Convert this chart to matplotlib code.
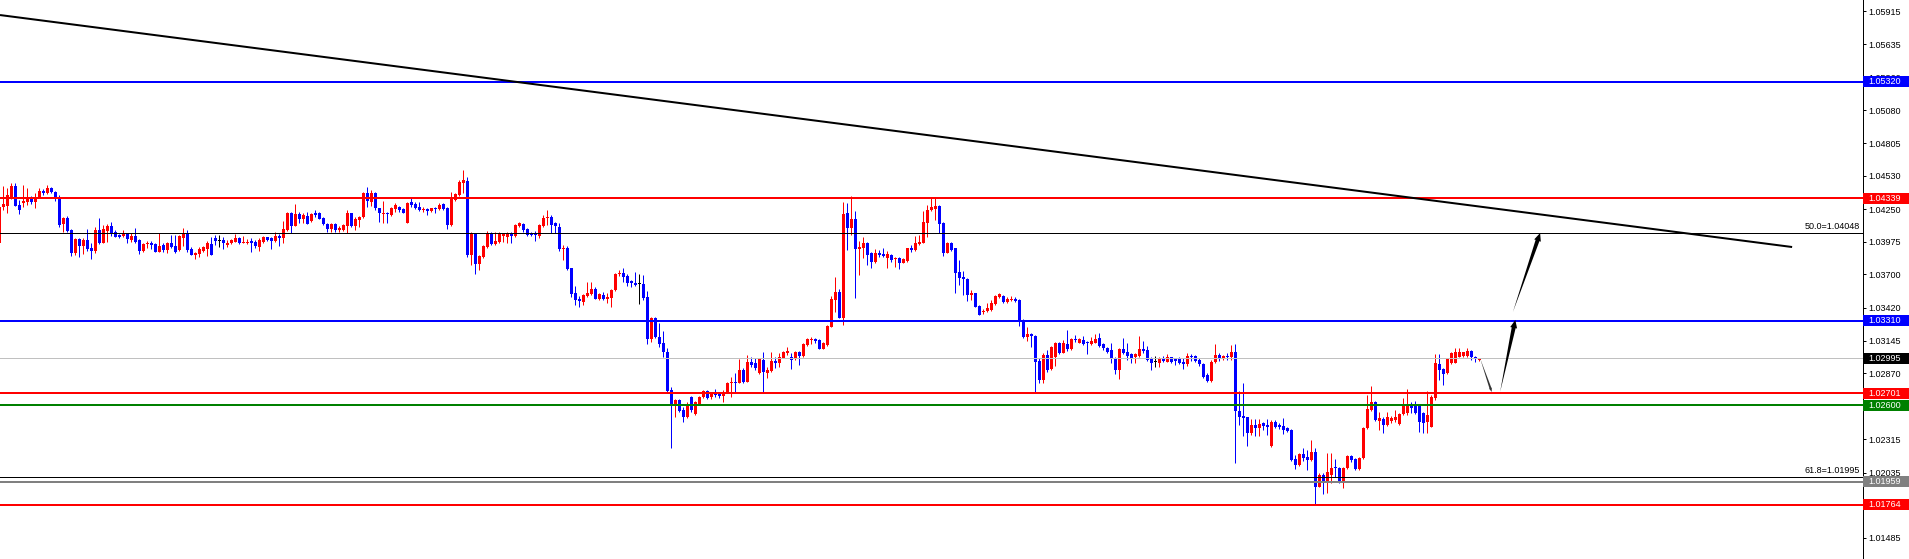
import matplotlib.pyplot as plt
import matplotlib.transforms as mtransforms
from matplotlib.patches import Rectangle, Polygon
import numpy as np

plt.rcParams['font.family'] = ['Liberation Sans', 'DejaVu Sans']

# OHLC of the visible candles, oldest first
opens = [
    1.03965, 1.04267, 1.04276, 1.04343, 1.04444, 1.04284, 1.04301, 1.04309, 1.04351, 1.04309,
    1.04351, 1.04402, 1.04385, 1.04427, 1.04393, 1.04343, 1.04124, 1.04175, 1.04074, 1.03881,
    1.03998, 1.03940, 1.03990, 1.03923, 1.03898, 1.04074, 1.03965, 1.04066, 1.04108, 1.04057,
    1.04032, 1.04024, 1.04049, 1.03990, 1.04024, 1.03990, 1.03898, 1.03956, 1.03965, 1.03956,
    1.03889, 1.03948, 1.03906, 1.03965, 1.03940, 1.03906, 1.04007, 1.04049, 1.03914, 1.03864,
    1.03872, 1.03898, 1.03914, 1.03956, 1.04007, 1.03982, 1.03990, 1.03948, 1.03965, 1.03973,
    1.04007, 1.03965, 1.03965, 1.03982, 1.03973, 1.03931, 1.03973, 1.04015, 1.04007, 1.03982,
    1.04024, 1.04007, 1.04074, 1.04217, 1.04108, 1.04208, 1.04166, 1.04192, 1.04150, 1.04217,
    1.04217, 1.04175, 1.04124, 1.04082, 1.04124, 1.04074, 1.04074, 1.04108, 1.04217, 1.04108,
    1.04158, 1.04183, 1.04385, 1.04309, 1.04385, 1.04259, 1.04208, 1.04217, 1.04200, 1.04250,
    1.04267, 1.04250, 1.04133, 1.04309, 1.04292, 1.04267, 1.04242, 1.04250, 1.04234, 1.04259,
    1.04250, 1.04292, 1.04259, 1.04116, 1.04326, 1.04368, 1.04469, 1.04486, 1.03864, 1.04049,
    1.03788, 1.03847, 1.03931, 1.04040, 1.03956, 1.03973, 1.04024, 1.04015, 1.04049, 1.04024,
    1.04108, 1.04124, 1.04082, 1.04049, 1.04040, 1.04024, 1.04108, 1.04175, 1.04183, 1.04133,
    1.04099, 1.03914, 1.03923, 1.03755, 1.03545, 1.03494, 1.03469, 1.03520, 1.03536, 1.03578,
    1.03494, 1.03528, 1.03494, 1.03503, 1.03570, 1.03704, 1.03713, 1.03688, 1.03646, 1.03629,
    1.03620, 1.03620, 1.03511, 1.03158, 1.03335, 1.03175, 1.03125, 1.03049, 1.02730, 1.02612,
    1.02646, 1.02562, 1.02503, 1.02671, 1.02528, 1.02612, 1.02671, 1.02722, 1.02671, 1.02705,
    1.02705, 1.02680, 1.02705, 1.02789, 1.02797, 1.02789, 1.02898, 1.02797, 1.02965, 1.02957,
    1.02873, 1.02982, 1.02873, 1.02890, 1.02974, 1.02957, 1.02999, 1.03041, 1.03007, 1.02990,
    1.03049, 1.03016, 1.03108, 1.03150, 1.03158, 1.03150, 1.03074, 1.03108, 1.03259, 1.03486,
    1.03553, 1.03335, 1.04217, 1.04091, 1.04166, 1.03914, 1.03923, 1.03965, 1.03881, 1.03805,
    1.03881, 1.03872, 1.03839, 1.03864, 1.03830, 1.03839, 1.03797, 1.03814, 1.03923, 1.03906,
    1.03956, 1.03965, 1.04133, 1.04242, 1.04250, 1.04276, 1.04133, 1.03881, 1.03965, 1.03923,
    1.03721, 1.03679, 1.03662, 1.03528, 1.03545, 1.03436, 1.03385, 1.03394, 1.03402, 1.03452,
    1.03511, 1.03520, 1.03469, 1.03486, 1.03494, 1.03486, 1.03318, 1.03175, 1.03200, 1.03184,
    1.02974, 1.02814, 1.03024, 1.02906, 1.03007, 1.03125, 1.03041, 1.03116, 1.03074, 1.03158,
    1.03125, 1.03150, 1.03133, 1.03116, 1.03125, 1.03167, 1.03116, 1.03083, 1.03066, 1.02999,
    1.02898, 1.03074, 1.03049, 1.03032, 1.03007, 1.03016, 1.03074, 1.03066, 1.02990, 1.02965,
    1.02957, 1.02999, 1.02965, 1.03007, 1.02990, 1.02990, 1.02965, 1.02948, 1.03016, 1.03016,
    1.02982, 1.02948, 1.02856, 1.02806, 1.02965, 1.03024, 1.02990, 1.03016, 1.03007, 1.03049,
    1.02554, 1.02512, 1.02503, 1.02369, 1.02436, 1.02411, 1.02453, 1.02436, 1.02260, 1.02461,
    1.02436, 1.02428, 1.02411, 1.02394, 1.02150, 1.02100, 1.02192, 1.02167, 1.02142, 1.02209,
    1.01915, 1.02016, 1.01949, 1.02016, 1.02083, 1.02075, 1.01957, 1.02075, 1.02176, 1.02150,
    1.02066, 1.02159, 1.02411, 1.02562, 1.02629, 1.02470, 1.02486, 1.02436, 1.02470, 1.02478,
    1.02444, 1.02528, 1.02537, 1.02604, 1.02596, 1.02596, 1.02537, 1.02461, 1.02419, 1.02663,
    1.02948, 1.02906, 1.02873, 1.02957, 1.02957, 1.03007, 1.03016, 1.03016, 1.03058, 1.03007,
    1.02982]
highs = [
    1.04284, 1.04444, 1.04427, 1.04469, 1.04469, 1.04326, 1.04452, 1.04427, 1.04360, 1.04385,
    1.04427, 1.04418, 1.04452, 1.04435, 1.04402, 1.04368, 1.04183, 1.04192, 1.04082, 1.04007,
    1.04007, 1.04007, 1.04082, 1.03965, 1.04099, 1.04175, 1.04116, 1.04124, 1.04141, 1.04074,
    1.04040, 1.04074, 1.04049, 1.04049, 1.04091, 1.03998, 1.03965, 1.03982, 1.03982, 1.03965,
    1.04049, 1.03965, 1.03973, 1.04032, 1.04032, 1.04032, 1.04091, 1.04074, 1.03931, 1.03889,
    1.03931, 1.03940, 1.03982, 1.04015, 1.04032, 1.04032, 1.04015, 1.03990, 1.03998, 1.04040,
    1.04015, 1.04024, 1.03998, 1.04007, 1.03990, 1.04007, 1.04024, 1.04015, 1.04015, 1.04057,
    1.04040, 1.04150, 1.04225, 1.04225, 1.04292, 1.04225, 1.04217, 1.04225, 1.04217, 1.04242,
    1.04225, 1.04183, 1.04133, 1.04133, 1.04133, 1.04108, 1.04124, 1.04242, 1.04217, 1.04183,
    1.04192, 1.04393, 1.04435, 1.04410, 1.04393, 1.04259, 1.04318, 1.04225, 1.04267, 1.04301,
    1.04276, 1.04259, 1.04309, 1.04343, 1.04309, 1.04309, 1.04267, 1.04259, 1.04259, 1.04267,
    1.04301, 1.04301, 1.04267, 1.04393, 1.04385, 1.04494, 1.04578, 1.04519, 1.04057, 1.04049,
    1.03864, 1.03948, 1.04066, 1.04057, 1.04057, 1.04057, 1.04049, 1.04057, 1.04057, 1.04124,
    1.04141, 1.04133, 1.04091, 1.04057, 1.04066, 1.04124, 1.04200, 1.04242, 1.04200, 1.04141,
    1.04133, 1.03948, 1.03940, 1.03755, 1.03604, 1.03520, 1.03536, 1.03637, 1.03637, 1.03595,
    1.03545, 1.03553, 1.03545, 1.03578, 1.03713, 1.03738, 1.03755, 1.03704, 1.03654, 1.03721,
    1.03704, 1.03696, 1.03562, 1.03343, 1.03343, 1.03293, 1.03226, 1.03083, 1.02755, 1.02654,
    1.02654, 1.02587, 1.02629, 1.02680, 1.02638, 1.02680, 1.02730, 1.02730, 1.02713, 1.02738,
    1.02713, 1.02730, 1.02797, 1.02839, 1.02873, 1.02990, 1.02915, 1.03024, 1.03007, 1.02999,
    1.02999, 1.03049, 1.02923, 1.03049, 1.03007, 1.03041, 1.03058, 1.03091, 1.03041, 1.03058,
    1.03058, 1.03125, 1.03167, 1.03175, 1.03167, 1.03158, 1.03133, 1.03276, 1.03520, 1.03679,
    1.03578, 1.04309, 1.04301, 1.04360, 1.04234, 1.03982, 1.04015, 1.03973, 1.03889, 1.03914,
    1.03906, 1.03923, 1.03898, 1.03872, 1.03847, 1.03847, 1.03839, 1.03923, 1.03948, 1.04024,
    1.04032, 1.04234, 1.04284, 1.04343, 1.04351, 1.04284, 1.04141, 1.03973, 1.03973, 1.03923,
    1.03822, 1.03730, 1.03671, 1.03570, 1.03545, 1.03444, 1.03410, 1.03461, 1.03486, 1.03528,
    1.03545, 1.03528, 1.03511, 1.03520, 1.03511, 1.03494, 1.03326, 1.03259, 1.03209, 1.03192,
    1.02999, 1.03041, 1.03066, 1.03100, 1.03133, 1.03133, 1.03150, 1.03234, 1.03167, 1.03192,
    1.03167, 1.03184, 1.03142, 1.03175, 1.03200, 1.03209, 1.03125, 1.03091, 1.03125, 1.03007,
    1.03083, 1.03167, 1.03125, 1.03041, 1.03041, 1.03184, 1.03142, 1.03100, 1.03007, 1.03016,
    1.03007, 1.03016, 1.03032, 1.03007, 1.02999, 1.03007, 1.02999, 1.03041, 1.03032, 1.03024,
    1.02999, 1.02957, 1.02873, 1.02982, 1.03116, 1.03041, 1.03024, 1.03041, 1.03108, 1.03116,
    1.02722, 1.02789, 1.02503, 1.02486, 1.02486, 1.02486, 1.02461, 1.02486, 1.02478, 1.02478,
    1.02453, 1.02495, 1.02419, 1.02402, 1.02184, 1.02201, 1.02243, 1.02226, 1.02310, 1.02243,
    1.02033, 1.02033, 1.02201, 1.02201, 1.02150, 1.02083, 1.02083, 1.02184, 1.02184, 1.02159,
    1.02167, 1.02419, 1.02688, 1.02764, 1.02638, 1.02545, 1.02503, 1.02545, 1.02512, 1.02562,
    1.02537, 1.02663, 1.02738, 1.02629, 1.02638, 1.02604, 1.02545, 1.02722, 1.02688, 1.03032,
    1.03032, 1.02915, 1.02999, 1.03049, 1.03083, 1.03083, 1.03049, 1.03083, 1.03066, 1.03016,
    1.02999]
lows = [
    1.03948, 1.04242, 1.04217, 1.04334, 1.04276, 1.04208, 1.04267, 1.04284, 1.04292, 1.04259,
    1.04343, 1.04368, 1.04376, 1.04385, 1.04318, 1.04099, 1.04057, 1.04057, 1.03856, 1.03864,
    1.03847, 1.03872, 1.03898, 1.03830, 1.03881, 1.03956, 1.03965, 1.03973, 1.04024, 1.04015,
    1.04007, 1.04015, 1.03965, 1.03973, 1.03965, 1.03872, 1.03889, 1.03923, 1.03914, 1.03889,
    1.03889, 1.03889, 1.03881, 1.03923, 1.03881, 1.03898, 1.03940, 1.03889, 1.03864, 1.03830,
    1.03847, 1.03889, 1.03856, 1.03864, 1.03948, 1.03931, 1.03914, 1.03931, 1.03956, 1.03973,
    1.03956, 1.03965, 1.03956, 1.03889, 1.03923, 1.03898, 1.03965, 1.03982, 1.03914, 1.03973,
    1.03940, 1.03965, 1.04066, 1.04049, 1.04108, 1.04133, 1.04133, 1.04124, 1.04141, 1.04183,
    1.04166, 1.04116, 1.04057, 1.04057, 1.04057, 1.04057, 1.04066, 1.04049, 1.04099, 1.04074,
    1.04099, 1.04175, 1.04267, 1.04276, 1.04242, 1.04141, 1.04133, 1.04133, 1.04192, 1.04225,
    1.04225, 1.04217, 1.04133, 1.04267, 1.04250, 1.04234, 1.04225, 1.04200, 1.04225, 1.04217,
    1.04242, 1.04242, 1.04082, 1.04108, 1.04318, 1.04360, 1.04385, 1.03847, 1.03780, 1.03704,
    1.03738, 1.03839, 1.03923, 1.03948, 1.03948, 1.03965, 1.03973, 1.03965, 1.03965, 1.04015,
    1.04099, 1.04057, 1.04024, 1.04024, 1.03982, 1.04007, 1.04099, 1.04116, 1.04049, 1.04049,
    1.03898, 1.03822, 1.03738, 1.03511, 1.03444, 1.03427, 1.03444, 1.03511, 1.03528, 1.03494,
    1.03486, 1.03486, 1.03461, 1.03427, 1.03562, 1.03688, 1.03637, 1.03604, 1.03595, 1.03604,
    1.03452, 1.03486, 1.03116, 1.03133, 1.03167, 1.03091, 1.03007, 1.02713, 1.02243, 1.02503,
    1.02545, 1.02461, 1.02495, 1.02545, 1.02520, 1.02604, 1.02663, 1.02654, 1.02654, 1.02671,
    1.02663, 1.02629, 1.02705, 1.02671, 1.02705, 1.02789, 1.02789, 1.02797, 1.02923, 1.02898,
    1.02864, 1.02713, 1.02831, 1.02881, 1.02915, 1.02923, 1.02999, 1.03024, 1.02906, 1.02982,
    1.02940, 1.03007, 1.03100, 1.03116, 1.03125, 1.03074, 1.03074, 1.03100, 1.03259, 1.03385,
    1.03335, 1.03276, 1.03906, 1.04032, 1.03503, 1.03696, 1.03839, 1.03780, 1.03755, 1.03797,
    1.03847, 1.03847, 1.03755, 1.03805, 1.03763, 1.03746, 1.03797, 1.03805, 1.03889, 1.03898,
    1.03948, 1.03965, 1.04015, 1.04234, 1.04158, 1.04049, 1.03856, 1.03881, 1.03898, 1.03545,
    1.03612, 1.03528, 1.03478, 1.03486, 1.03427, 1.03360, 1.03368, 1.03385, 1.03394, 1.03444,
    1.03503, 1.03461, 1.03461, 1.03478, 1.03469, 1.03268, 1.03167, 1.03142, 1.03091, 1.02713,
    1.02789, 1.02789, 1.02881, 1.02898, 1.02932, 1.03032, 1.03041, 1.03058, 1.03066, 1.03133,
    1.03125, 1.03108, 1.03032, 1.03108, 1.03125, 1.03091, 1.03066, 1.03041, 1.02957, 1.02864,
    1.02822, 1.03032, 1.02982, 1.02957, 1.02957, 1.03007, 1.03041, 1.02974, 1.02898, 1.02923,
    1.02923, 1.02965, 1.02965, 1.02957, 1.02940, 1.02948, 1.02906, 1.02932, 1.02974, 1.02965,
    1.02932, 1.02831, 1.02797, 1.02797, 1.02957, 1.02974, 1.02982, 1.02982, 1.02982, 1.02117,
    1.02436, 1.02344, 1.02260, 1.02352, 1.02344, 1.02344, 1.02394, 1.02352, 1.02251, 1.02411,
    1.02402, 1.02360, 1.02377, 1.02134, 1.02066, 1.02092, 1.02134, 1.02058, 1.02134, 1.01772,
    1.01915, 1.01856, 1.01865, 1.01949, 1.01999, 1.01949, 1.01907, 1.02066, 1.02125, 1.02058,
    1.02058, 1.02150, 1.02402, 1.02554, 1.02470, 1.02394, 1.02369, 1.02428, 1.02453, 1.02461,
    1.02436, 1.02520, 1.02520, 1.02537, 1.02528, 1.02377, 1.02369, 1.02369, 1.02419, 1.02646,
    1.02814, 1.02772, 1.02864, 1.02948, 1.02957, 1.03007, 1.03007, 1.03007, 1.02982, 1.02965,
    1.02974]
closes = [
    1.04267, 1.04292, 1.04368, 1.04444, 1.04276, 1.04242, 1.04318, 1.04351, 1.04309, 1.04343,
    1.04402, 1.04385, 1.04427, 1.04393, 1.04334, 1.04116, 1.04175, 1.04066, 1.03881, 1.03998,
    1.03940, 1.03990, 1.03914, 1.03898, 1.04074, 1.03965, 1.04082, 1.04108, 1.04040, 1.04015,
    1.04015, 1.04049, 1.03998, 1.04024, 1.03973, 1.03898, 1.03956, 1.03965, 1.03948, 1.03889,
    1.03940, 1.03906, 1.03965, 1.03931, 1.03889, 1.04024, 1.04049, 1.03906, 1.03864, 1.03881,
    1.03914, 1.03931, 1.03965, 1.03864, 1.03982, 1.03982, 1.03965, 1.03965, 1.03990, 1.04007,
    1.03965, 1.03973, 1.03973, 1.03965, 1.03940, 1.03990, 1.04015, 1.03990, 1.03982, 1.04024,
    1.04007, 1.04082, 1.04217, 1.04108, 1.04208, 1.04166, 1.04200, 1.04124, 1.04208, 1.04200,
    1.04166, 1.04124, 1.04082, 1.04124, 1.04074, 1.04091, 1.04116, 1.04217, 1.04108, 1.04166,
    1.04183, 1.04385, 1.04318, 1.04385, 1.04259, 1.04217, 1.04217, 1.04208, 1.04259, 1.04284,
    1.04242, 1.04217, 1.04301, 1.04284, 1.04259, 1.04242, 1.04250, 1.04234, 1.04259, 1.04250,
    1.04284, 1.04250, 1.04116, 1.04351, 1.04376, 1.04477, 1.04494, 1.03864, 1.04049, 1.03788,
    1.03856, 1.03940, 1.04049, 1.03956, 1.03982, 1.04049, 1.04049, 1.04049, 1.04024, 1.04116,
    1.04133, 1.04074, 1.04032, 1.04032, 1.04032, 1.04116, 1.04175, 1.04183, 1.04116, 1.04108,
    1.03914, 1.03923, 1.03746, 1.03536, 1.03486, 1.03478, 1.03528, 1.03545, 1.03578, 1.03494,
    1.03536, 1.03494, 1.03511, 1.03570, 1.03704, 1.03713, 1.03679, 1.03629, 1.03629, 1.03612,
    1.03620, 1.03503, 1.03158, 1.03335, 1.03175, 1.03116, 1.03049, 1.02722, 1.02612, 1.02646,
    1.02554, 1.02503, 1.02604, 1.02562, 1.02629, 1.02671, 1.02722, 1.02663, 1.02705, 1.02688,
    1.02680, 1.02713, 1.02789, 1.02797, 1.02789, 1.02898, 1.02797, 1.02965, 1.02940, 1.02915,
    1.02990, 1.02881, 1.02898, 1.02974, 1.02957, 1.03007, 1.03049, 1.03058, 1.02982, 1.03049,
    1.03016, 1.03116, 1.03158, 1.03158, 1.03142, 1.03074, 1.03125, 1.03268, 1.03494, 1.03553,
    1.03335, 1.04208, 1.04091, 1.04166, 1.03914, 1.03931, 1.03965, 1.03864, 1.03805, 1.03881,
    1.03864, 1.03856, 1.03872, 1.03822, 1.03839, 1.03797, 1.03830, 1.03923, 1.03906, 1.03965,
    1.03973, 1.04141, 1.04242, 1.04267, 1.04276, 1.04124, 1.03881, 1.03965, 1.03906, 1.03713,
    1.03671, 1.03662, 1.03528, 1.03545, 1.03427, 1.03360, 1.03394, 1.03419, 1.03461, 1.03520,
    1.03536, 1.03469, 1.03494, 1.03494, 1.03478, 1.03318, 1.03175, 1.03200, 1.03184, 1.02965,
    1.02814, 1.03024, 1.02898, 1.03091, 1.03125, 1.03041, 1.03125, 1.03074, 1.03158, 1.03150,
    1.03158, 1.03116, 1.03125, 1.03142, 1.03158, 1.03100, 1.03083, 1.03049, 1.02990, 1.02898,
    1.03074, 1.03041, 1.03016, 1.02999, 1.03032, 1.03074, 1.03058, 1.02982, 1.02957, 1.02965,
    1.02999, 1.02974, 1.03007, 1.02965, 1.02974, 1.02957, 1.02948, 1.03016, 1.03007, 1.02974,
    1.02948, 1.02839, 1.02806, 1.02965, 1.03024, 1.02990, 1.03016, 1.03007, 1.03049, 1.02554,
    1.02503, 1.02495, 1.02369, 1.02436, 1.02411, 1.02444, 1.02428, 1.02419, 1.02461, 1.02419,
    1.02419, 1.02394, 1.02386, 1.02142, 1.02100, 1.02192, 1.02159, 1.02142, 1.02209, 1.01915,
    1.02016, 1.01949, 1.02041, 1.02075, 1.02075, 1.01957, 1.02075, 1.02176, 1.02142, 1.02066,
    1.02159, 1.02411, 1.02570, 1.02629, 1.02478, 1.02495, 1.02436, 1.02503, 1.02495, 1.02503,
    1.02528, 1.02612, 1.02612, 1.02579, 1.02537, 1.02461, 1.02453, 1.02520, 1.02671, 1.02957,
    1.02898, 1.02864, 1.02990, 1.03041, 1.03049, 1.03049, 1.03049, 1.03058, 1.03007, 1.02990,
    1.02995]

# horizontal levels drawn on the chart
levels = [1.05320, 1.04339, 1.03310, 1.02995, 1.02701, 1.02600, 1.01959, 1.01764]
level_colors = ['#0000FF', '#FF0000', '#0000FF', '#C0C0C0', '#FF0000', '#008000', '#808080', '#FF0000']
box_colors = ['#0000FF', '#FF0000', '#0000FF', '#000000', '#FF0000', '#008000', '#808080', '#FF0000']
level_px = [2, 2, 2, 1, 2, 2, 2, 2]

fib_levels = [1.04048, 1.01995]
fib_names = ['50.0', '61.8']

price_ticks = [1.05915, 1.05635, 1.05360, 1.05080, 1.04805, 1.04530, 1.04250, 1.03975,
               1.03700, 1.03420, 1.03145, 1.02870, 1.02590, 1.02315, 1.02035, 1.01760, 1.01485]

trend_x = [0.17, 448.2]
trend_y = [1.05881, 1.03931]

# projected path: (start bar, start price) -> (end bar, end price)
path_start = [(370.2, 1.02995), (375.2, 1.02713), (378.4, 1.03385)]
path_end = [(373.1, 1.02713), (379.0, 1.03318), (385.2, 1.04049)]

W, H = 1909, 559
PX = 0.72  # points per pixel at 100 dpi

fig = plt.figure(figsize=(W / 100, H / 100), dpi=100)
fig.patch.set_facecolor('white')
ax = fig.add_axes([0, 0, 1863 / W, 1])
ax.set_xlim(0.17, 465.92)
ax.set_ylim(1.013084, 1.060075)

o = np.array(opens)
hi = np.array(highs)
lo = np.array(lows)
c = np.array(closes)
x = np.arange(len(o))
cols = np.where(c > o, '#FF0000', np.where(c < o, '#0000FF', '#000000'))

ax.vlines(x, lo, hi, colors=cols, lw=1 * PX, zorder=2)
body_h = np.maximum(np.abs(c - o), 0.00009)
ax.bar(x, body_h, bottom=np.minimum(o, c), width=0.75, color=cols, linewidth=0, zorder=2.1)

for lv, col, lw in zip(levels, level_colors, level_px):
    ax.axhline(lv, color=col, lw=lw * PX, zorder=3)
for lv in fib_levels:
    ax.axhline(lv, color='black', lw=1 * PX, zorder=3)

ax.plot(trend_x, trend_y, color='black', lw=2 * PX, zorder=3.5, solid_capstyle='butt')


def wedge(p0, p1, shaft, head_w, head_len, color):
    a = ax.transData.transform(p0)
    b = ax.transData.transform(p1)
    d = b - a
    u = d / np.hypot(*d)
    n = np.array([-u[1], u[0]])
    neck = b - u * head_len
    pts = [a, neck + n * shaft / 2, neck + n * head_w / 2, b,
           neck - n * head_w / 2, neck - n * shaft / 2]
    fig.add_artist(Polygon(pts, closed=True, facecolor=color, edgecolor='none',
                           transform=mtransforms.IdentityTransform(), zorder=4))


wedge(path_start[0], path_end[0], 2, 3, 4, '#333333')
wedge(path_start[1], path_end[1], 4, 7, 8, 'black')
wedge(path_start[2], path_end[2], 4, 7, 8, 'black')

# right price axis
for s in ['top', 'left', 'bottom']:
    ax.spines[s].set_visible(False)
ax.spines['right'].set_color('black')
ax.spines['right'].set_linewidth(1 * PX)
ax.set_xticks([])
ax.yaxis.tick_right()
ax.set_yticks(price_ticks)
ax.set_yticklabels(['%.5f' % t for t in price_ticks])
ax.tick_params(axis='y', direction='out', length=3 * PX, width=1 * PX, pad=2 * PX,
               labelsize=6.5, colors='black')

blend = mtransforms.blended_transform_factory(ax.transAxes, ax.transData)
box_h = 11 / 11896
for lv, bc in zip(levels, box_colors):
    ax.add_patch(Rectangle((1.0, lv - box_h / 2), 0.03, box_h, transform=blend,
                           facecolor=bc, edgecolor='none', clip_on=False, zorder=5))
    ax.annotate('%.5f' % lv, xy=(1.0, lv), xycoords=('axes fraction', 'data'),
                xytext=(5, 0), textcoords='offset pixels', ha='left', va='center',
                color='white', fontsize=6.5, zorder=6, annotation_clip=False)

for lv, nm in zip(fib_levels, fib_names):
    ax.annotate('%s=%.5f' % (nm, lv), xy=(1.0, lv), xycoords=('axes fraction', 'data'),
                xytext=(-3, 2), textcoords='offset pixels', ha='right', va='bottom',
                color='black', fontsize=6.5, zorder=6)

fig.savefig('out.png', dpi=100, facecolor='white')
